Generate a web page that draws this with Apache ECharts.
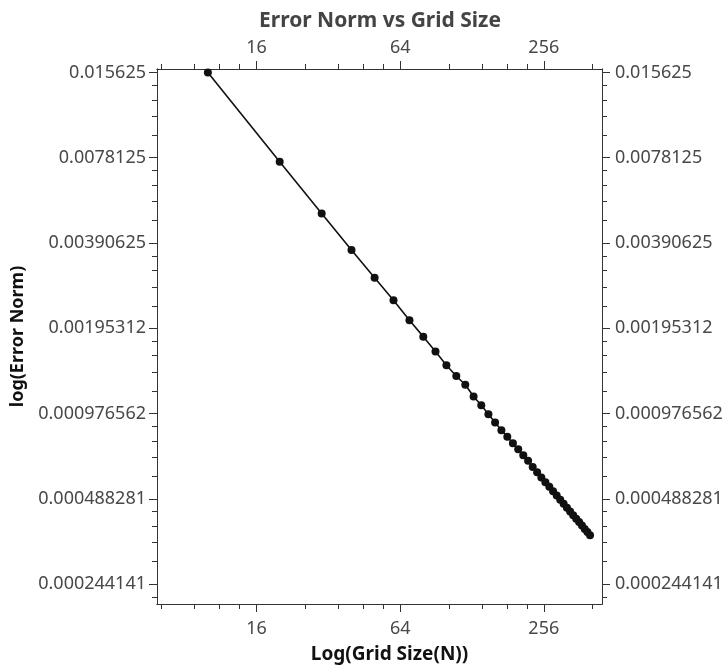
<!DOCTYPE html>
<html>
<head>
<meta charset="utf-8">
<title>Error Norm vs Grid Size</title>
<script src="https://cdn.jsdelivr.net/npm/echarts@6/dist/echarts.min.js"></script>
<style>
  html, body { margin: 0; padding: 0; background: #fff; }
  #chart { width: 728px; height: 669px; }
</style>
</head>
<body>
<div id="chart"></div>
<script>
// grid size N and the error norm
var gridSizes = [10, 20, 30, 40, 50, 60, 70, 80, 90, 100,
                 110, 120, 130, 140, 150, 160, 170, 180, 190, 200,
                 210, 220, 230, 240, 250, 260, 270, 280, 290, 300,
                 310, 320, 330, 340, 350, 360, 370, 380, 390, 400];
var errorNorms = [0.01562, 0.007552, 0.004965, 0.003685, 0.002945, 0.002450, 0.002083, 0.001824, 0.001615, 0.001445,
                  0.001325, 0.001234, 0.001121, 0.001045, 0.000971, 0.000908, 0.000853, 0.000808, 0.000767, 0.000731,
                  0.000696, 0.000665, 0.000632, 0.000606, 0.000581, 0.000559, 0.000538, 0.000519, 0.000501, 0.000484,
                  0.000469, 0.000454, 0.000440, 0.000427, 0.000415, 0.000404, 0.000393, 0.000382, 0.000373, 0.000363];

var xMajorTicks = [16, 64, 256];
var xMinorTicks = [6.4, 8.8, 11.2, 13.6, 25.6, 35.2, 44.8, 54.4, 102.4, 140.8, 179.2, 217.6, 409.6];
var yMajorTicks = [0.015625, 0.0078125, 0.00390625, 0.001953125, 0.0009765625, 0.00048828125, 0.000244140625];
var yTickLabels = ['0.015625', '0.0078125', '0.00390625', '0.00195312', '0.000976562', '0.000488281', '0.000244141'];
var yMinorTicks = [0.000219727,
                   0.00029297, 0.00034180, 0.00039063, 0.00043945,
                   0.00058594, 0.00068359, 0.00078125, 0.00087891,
                   0.0011719, 0.0013672, 0.0015625, 0.0017578,
                   0.0023438, 0.0027344, 0.003125, 0.0035156,
                   0.0046875, 0.0054688, 0.00625, 0.0070313,
                   0.009375, 0.0109375, 0.0125, 0.0140625];

var xMin = 6.12, xMax = 449;
var yMin = 0.0002076, yMax = 0.01606;

var chart = echarts.init(document.getElementById('chart'));

var lineColor = '#333';
var labelFont = 'Noto Sans';

function yLabel(v) {
    var best = 0;
    for (var i = 1; i < yMajorTicks.length; i++) {
        if (Math.abs(Math.log(yMajorTicks[i] / v)) < Math.abs(Math.log(yMajorTicks[best] / v))) best = i;
    }
    return yTickLabels[best];
}

function xAxisDef(pos, major, withName) {
    var ax = {
        type: 'log', logBase: 2, min: xMin, max: xMax,
        position: pos, gridIndex: 0,
        axisLine: { show: true, onZero: false, lineStyle: { color: lineColor, width: 1 } },
        axisTick: { show: true, inside: false, length: major ? 8 : 5,
                    customValues: major ? xMajorTicks : xMinorTicks,
                    lineStyle: { color: lineColor } },
        axisLabel: { show: major, customValues: xMajorTicks, margin: pos === 'bottom' ? 16 : 12,
                     color: '#484848', fontFamily: labelFont, fontSize: 18,
                     formatter: function (v) { return String(Math.round(v)); } },
        splitLine: { show: false },
        minorTick: { show: false },
        minorSplitLine: { show: false }
    };
    if (withName) {
        ax.name = 'Log(Grid Size(N))';
        ax.nameLocation = 'middle';
        ax.nameGap = 41;
        ax.nameTextStyle = { color: '#111', fontFamily: labelFont, fontWeight: 'bold', fontSize: 19,
                             padding: [0, 0, 0, 20] };
    }
    return ax;
}

function yAxisDef(pos, major, withName) {
    var ax = {
        type: 'log', logBase: 2, min: yMin, max: yMax,
        position: pos, gridIndex: 0,
        axisLine: { show: true, onZero: false, lineStyle: { color: lineColor, width: 1 } },
        axisTick: { show: true, inside: false, length: major ? 8 : 5,
                    customValues: major ? yMajorTicks : yMinorTicks,
                    lineStyle: { color: lineColor } },
        axisLabel: { show: major, customValues: yMajorTicks, margin: pos === 'left' ? 11 : 13,
                     color: '#484848', fontFamily: labelFont, fontSize: 18,
                     formatter: yLabel },
        splitLine: { show: false },
        minorTick: { show: false },
        minorSplitLine: { show: false }
    };
    if (withName) {
        ax.name = 'log(Error Norm)';
        ax.nameLocation = 'middle';
        ax.nameGap = 128;
        ax.nameTextStyle = { color: '#111', fontFamily: labelFont, fontWeight: 'bold', fontSize: 18 };
    }
    return ax;
}

var points = gridSizes.map(function (n, i) { return [n, errorNorms[i]]; });

var option = {
    animation: false,
    backgroundColor: '#fff',
    title: {
        text: 'Error Norm vs Grid Size',
        left: 375, top: 6, textAlign: 'center',
        textStyle: { color: '#444', fontFamily: labelFont, fontWeight: 'bold', fontSize: 21 }
    },
    grid: { left: 157, right: 126, top: 69, bottom: 64, containLabel: false },
    xAxis: [
        xAxisDef('bottom', true, true),
        xAxisDef('bottom', false, false),
        xAxisDef('top', true, false),
        xAxisDef('top', false, false)
    ],
    yAxis: [
        yAxisDef('left', true, true),
        yAxisDef('left', false, false),
        yAxisDef('right', true, false),
        yAxisDef('right', false, false)
    ],
    series: [{
        type: 'line',
        xAxisIndex: 0,
        yAxisIndex: 0,
        data: points,
        symbol: 'circle',
        symbolSize: 8,
        clip: false,
        lineStyle: { color: '#111', width: 1.6 },
        itemStyle: { color: '#111' }
    }]
};

chart.setOption(option);
</script>
</body>
</html>
